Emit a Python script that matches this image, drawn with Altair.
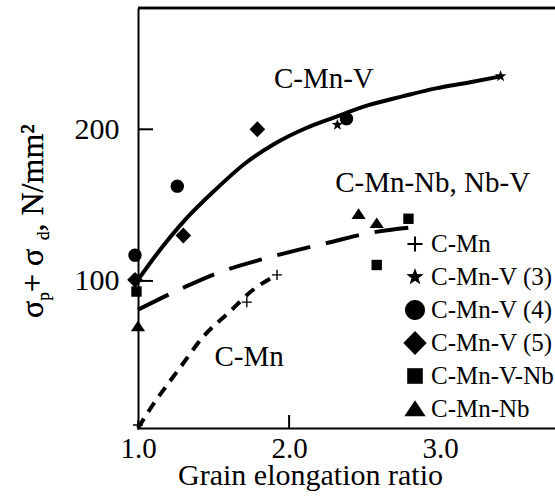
import altair as alt
import pandas as pd

# ---------------- data ----------------
series_names = ["C-Mn", "C-Mn-V (3)", "C-Mn-V (4)", "C-Mn-V (5)", "C-Mn-V-Nb", "C-Mn-Nb"]

cmn_x = [1.0, 1.72, 1.92]
cmn_y = [5, 86, 104]
v3_x = [2.32, 3.40]
v3_y = [203, 235]
v4_x = [0.98, 1.26, 2.38]
v4_y = [117, 162.5, 207]
v5_x = [0.98, 1.30, 1.79]
v5_y = [100.7, 130, 200]
vnb_x = [0.99, 2.58, 2.79]
vnb_y = [93, 110.5, 141]
nb_x = [1.0, 2.46, 2.58]
nb_y = [70, 144, 138]

# fitted curves (traced)
solid_x = [1.00, 1.11, 1.31, 1.51, 1.71, 1.91, 2.11, 2.30, 2.52, 2.75, 2.97, 3.19, 3.40]
solid_y = [100.7, 115.8, 140.1, 159.9, 177.6, 190.8, 200.7, 207.9, 215.8, 221.7, 227.0, 230.9, 234.9]
dash_x = [1.0, 1.31, 1.52, 1.83, 2.06, 2.28, 2.50, 2.83]
dash_y = [81, 96, 105, 114.5, 120.5, 125.7, 131, 135.5]
dot_x = [1.0, 1.09, 1.28, 1.43, 1.61, 1.76, 1.92]
dot_y = [3, 17, 43, 63, 80, 94, 104]

# curve labels
ann_text = ["C-Mn-V", "C-Mn-Nb, Nb-V", "C-Mn"]
ann_x = [2.23, 2.95, 1.735]
ann_y = [227, 158.6, 44]

x_ticks = [1.0, 2.0, 3.0]
y_ticks = [100, 200]
x_inner_ticks = [2.0]

# ---------------- tables ----------------
groups = [(cmn_x, cmn_y), (v3_x, v3_y), (v4_x, v4_y), (v5_x, v5_y), (vnb_x, vnb_y), (nb_x, nb_y)]
rows = []
for name, (xs, ys) in zip(series_names, groups):
    for a, b in zip(xs, ys):
        rows.append({"x": a, "y": b, "series": name})
pts = pd.DataFrame(rows)

solid_df = pd.DataFrame({"x": solid_x, "y": solid_y})
dash_df = pd.DataFrame({"x": dash_x, "y": dash_y})
dot_df = pd.DataFrame({"x": dot_x, "y": dot_y})
ann_df = pd.DataFrame({"x": ann_x, "y": ann_y, "label": ann_text})
ytick_df = pd.DataFrame({"y": y_ticks})
xtick_df = pd.DataFrame({"x": x_inner_ticks})

# ---------------- symbol shapes ----------------
plus = "M-0.58,-0.08H-0.08V-0.58H0.08V-0.08H0.58V0.08H0.08V0.58H-0.08V0.08H-0.58Z"
star = ("M0,-0.7 L0.165,-0.227 L0.666,-0.216 L0.266,0.087 L0.412,0.566 L0,0.28 "
        "L-0.412,0.566 L-0.266,0.087 L-0.666,-0.216 L-0.165,-0.227 Z")
circ = "M-0.77,0 A0.77,0.77 0 1,0 0.77,0 A0.77,0.77 0 1,0 -0.77,0 Z"
diam = "M0,-0.92 L0.9,0 L0,0.92 L-0.9,0 Z"
sq = "M-0.6,-0.6 H0.6 V0.6 H-0.6 Z"
tri = "M0,-0.68 L0.82,0.55 L-0.82,0.55 Z"
shape_range = [plus, star, circ, diam, sq, tri]

FONT = "'Liberation Serif', 'DejaVu Serif', 'Times New Roman', Times, serif"
W, H = 417, 420

xscale = alt.Scale(domain=[1.0, 3.76], nice=False, zero=False)
yscale = alt.Scale(domain=[3, 280], nice=False, zero=False)
xaxis = alt.Axis(values=x_ticks, format=".1f", grid=False, ticks=False, labelFlush=False,
                 labelFontSize=29, labelFont=FONT, labelColor="black",
                 labelPadding=6, domainColor="black", domainWidth=2,
                 title="Grain elongation ratio", titleFont=FONT, titleFontSize=30,
                 titleFontWeight="normal", titleColor="black",
                 titleX=172, titleY=56, titleAlign="center", titleBaseline="alphabetic")
yaxis = alt.Axis(values=y_ticks, format="d", grid=False, ticks=False, labelFlush=False,
                 labelFontSize=30, labelFont=FONT, labelColor="black",
                 labelPadding=19, domainColor="black", domainWidth=2, title="")

X = alt.X("x:Q", scale=xscale, axis=xaxis)
Y = alt.Y("y:Q", scale=yscale, axis=yaxis)

solid = alt.Chart(solid_df).mark_line(color="black", strokeWidth=4, interpolate="monotone").encode(x=X, y=Y)
dashed = alt.Chart(dash_df).mark_line(color="black", strokeWidth=4, strokeDash=[34, 16],
                                      interpolate="monotone").encode(x=X, y=Y)
dotted = alt.Chart(dot_df).mark_line(color="black", strokeWidth=4, strokeDash=[11, 8],
                                     interpolate="monotone").encode(x=X, y=Y)

points = alt.Chart(pts).mark_point(filled=True, color="black", opacity=1, size=300, strokeWidth=0).encode(
    x=X, y=Y,
    shape=alt.Shape("series:N", scale=alt.Scale(domain=series_names, range=shape_range),
                    legend=alt.Legend(title=None, orient="none", legendX=264, legendY=223,
                                      symbolSize=676, symbolFillColor="black", symbolStrokeWidth=0,
                                      labelFont=FONT, labelFontSize=25, labelColor="black",
                                      labelOffset=3, rowPadding=7, padding=0,
                                      labelLimit=300)),
)

ann = alt.Chart(ann_df).mark_text(font=FONT, fontSize=29, color="black", align="center",
                                  baseline="alphabetic").encode(x=X, y=Y, text="label:N")

ytick = alt.Chart(ytick_df).mark_rule(color="black", strokeWidth=2).encode(
    y=Y, x=alt.value(0), x2=alt.value(15))
xtick = alt.Chart(xtick_df).mark_rule(color="black", strokeWidth=2).encode(
    x=X, y=alt.value(H), y2=alt.value(H - 13))
top = alt.Chart(ytick_df).mark_rule(color="black", strokeWidth=2.5).encode(
    x=alt.value(0), x2=alt.value(W), y=alt.value(0))

# y-axis title built from pieces (subscripts)
def piece(txt, size, px, py):
    return alt.Chart(ytick_df).mark_text(text=txt, font=FONT, fontSize=size, angle=270,
                                         align="left", baseline="alphabetic", color="black").encode(
        x=alt.value(px), y=alt.value(py))

bx = -95
ytitle = [
    piece("σ", 32, bx, 310),
    piece("p", 17, bx + 6, 292.4),
    piece(" + σ", 32, bx, 284),
    piece("d", 17, bx + 6, 232),
    piece(", N/mm²", 32, bx, 223.5),
]

chart = alt.layer(top, ytick, xtick, solid, dashed, dotted, points, ann, *ytitle).properties(
    width=W, height=H,
    autosize=alt.AutoSizeParams(type="none"),
    padding={"left": 138, "top": 8, "right": 0, "bottom": 72},
).configure_view(strokeWidth=0).configure(font=FONT)

chart.save("out.html", embed_options={"renderer": "svg", "actions": False})
